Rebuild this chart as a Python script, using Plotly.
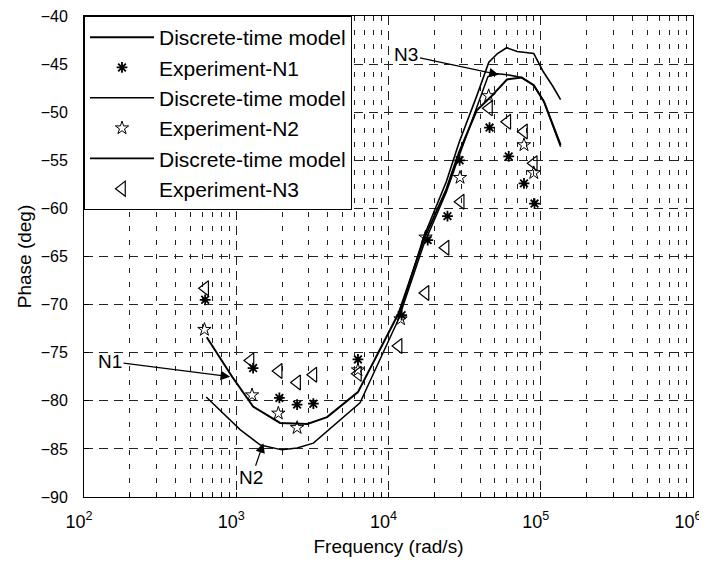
import plotly.graph_objects as go

# ---- data ----
model_n1_f = [640, 940, 1290, 1940, 2930, 3950, 6300, 11650, 17000, 24000, 29000, 38000, 47000, 60000, 75000, 90000, 105000, 135000]
model_n1_p = [-73.4, -77.5, -80.6, -82.3, -82.4, -81.7, -79.1, -70.9, -63.3, -58.0, -54.2, -49.8, -48.4, -46.6, -46.4, -47.2, -48.9, -53.4]

model_n2_f = [635, 1060, 1440, 2000, 2510, 3210, 6500, 11650, 17000, 24000, 29000, 38000, 45000, 52000, 60000, 75000, 90000, 105000, 135000]
model_n2_p = [-79.6, -83.0, -84.6, -85.1, -84.9, -84.4, -80.2, -71.5, -63.8, -58.3, -54.6, -49.5, -46.3, -46.0, -46.1, -46.4, -47.2, -48.9, -53.6]

model_n3_f = [11650, 17000, 24000, 29000, 38000, 45600, 52000, 59700, 70000, 90000, 104000, 120000, 135000]
model_n3_p = [-71.3, -63.0, -57.2, -53.2, -48.3, -44.8, -43.9, -43.3, -43.7, -43.9, -45.8, -47.3, -48.7]

exp_n1_f = [625, 1290, 1920, 2510, 3210, 6300, 12200, 18100, 24400, 29300, 46100, 61600, 77600, 91000]
exp_n1_p = [-69.5, -76.6, -79.7, -80.4, -80.3, -75.7, -71.1, -63.3, -60.8, -55.0, -51.6, -54.6, -57.4, -59.5]

exp_n2_f = [618, 1270, 1890, 2510, 6300, 12000, 17500, 29500, 45500, 77600, 90000]
exp_n2_p = [-72.6, -79.4, -81.3, -82.8, -76.8, -71.5, -63.0, -56.8, -48.3, -53.4, -56.3]

exp_n3_f = [625, 1240, 1900, 2510, 3210, 6300, 11650, 17500, 23700, 29800, 45700, 60300, 77600, 90000]
exp_n3_p = [-68.3, -75.8, -76.9, -78.1, -77.3, -77.2, -74.3, -68.8, -64.1, -59.3, -49.6, -51.0, -52.0, -55.3]

x_tick_vals = [1e2, 1e3, 1e4, 1e5, 1e6]
x_tick_text = ["10<sup>2</sup>", "10<sup>3</sup>", "10<sup>4</sup>", "10<sup>5</sup>", "10<sup>6</sup>"]
x_minor_vals = [m * 10 ** k for k in range(2, 6) for m in range(2, 10)]
y_tick_vals = list(range(-90, -35, 5))

FONT = "Arial, Liberation Sans, sans-serif"

fig = go.Figure()
fig.add_trace(go.Scatter(x=model_n1_f, y=model_n1_p, mode="lines", name="Discrete-time model",
                         line=dict(color="black", width=2)))
fig.add_trace(go.Scatter(x=exp_n1_f, y=exp_n1_p, mode="markers", name="Experiment-N1",
                         marker=dict(symbol="asterisk-open", size=9, color="black", line=dict(color="black", width=1.8))))
fig.add_trace(go.Scatter(x=model_n2_f, y=model_n2_p, mode="lines", name="Discrete-time model",
                         line=dict(color="black", width=1.5)))
fig.add_trace(go.Scatter(x=exp_n2_f, y=exp_n2_p, mode="markers", name="Experiment-N2",
                         marker=dict(symbol="star-open", size=10, color="black", line=dict(color="black", width=1))))
fig.add_trace(go.Scatter(x=model_n3_f, y=model_n3_p, mode="lines", name="Discrete-time model",
                         line=dict(color="black", width=1.6)))
fig.add_trace(go.Scatter(x=exp_n3_f, y=exp_n3_p, mode="markers", name="Experiment-N3",
                         marker=dict(symbol="triangle-left-open", size=13, color="black", line=dict(color="black", width=1.2))))

# labels with arrows: (text, tip_x(log10), tip_y, text_x(log10), text_y)
labels = [("N1", 2.96, -77.5, 2.171, -75.9),
          ("N2", 3.178, -84.4, 3.10, -88.0),
          ("N3", 4.724, -46.1, 4.118, -44.05)]
for t, tx, ty, lx, ly in labels:
    fig.add_annotation(x=tx, y=ty, ax=lx, ay=ly, xref="x", yref="y", axref="x", ayref="y",
                       text=t, showarrow=True, arrowhead=2, arrowsize=1.6, arrowwidth=1.2,
                       arrowcolor="black", font=dict(family=FONT, size=19, color="black"))

fig.update_layout(
    width=699, height=557,
    margin=dict(l=76, r=14, t=8, b=68),
    paper_bgcolor="white", plot_bgcolor="white",
    font=dict(family=FONT, size=17, color="black"),
    showlegend=True,
    legend=dict(x=0, y=1, xanchor="left", yanchor="top", bgcolor="white",
                bordercolor="black", borderwidth=1, font=dict(size=21, family=FONT),
                itemwidth=64, tracegroupgap=0),
)
fig.update_xaxes(
    type="log", range=[2, 6], automargin=False, ticklabeloverflow="allow",
    tickvals=x_tick_vals, ticktext=x_tick_text, ticklabelshift=-5,
    showgrid=True, gridcolor="#222", gridwidth=1, griddash="9px,6px",
    minor=dict(tickvals=x_minor_vals, showgrid=True, gridcolor="#222", gridwidth=1, griddash="5px,9px",
               ticks="inside", ticklen=3, tickcolor="black"),
    ticks="inside", ticklen=5, tickcolor="black", ticklabelstandoff=8,
    showline=True, linecolor="black", linewidth=1, mirror=True,
    zeroline=False,
    title=dict(text="Frequency (rad/s)", font=dict(size=19, family=FONT), standoff=9),
    tickfont=dict(size=18, family=FONT),
)
fig.update_yaxes(
    range=[-90, -40], tickvals=y_tick_vals, automargin=False, ticklabeloverflow="allow",
    showgrid=True, gridcolor="#222", gridwidth=1, griddash="9px,6px",
    ticks="inside", ticklen=5, tickcolor="black", ticklabelstandoff=12,
    showline=True, linecolor="black", linewidth=1, mirror=True,
    zeroline=False,
    title=dict(text="Phase (deg)", font=dict(size=19, family=FONT), standoff=4),
    tickfont=dict(size=16, family=FONT),
)

fig.write_html("out.html")
